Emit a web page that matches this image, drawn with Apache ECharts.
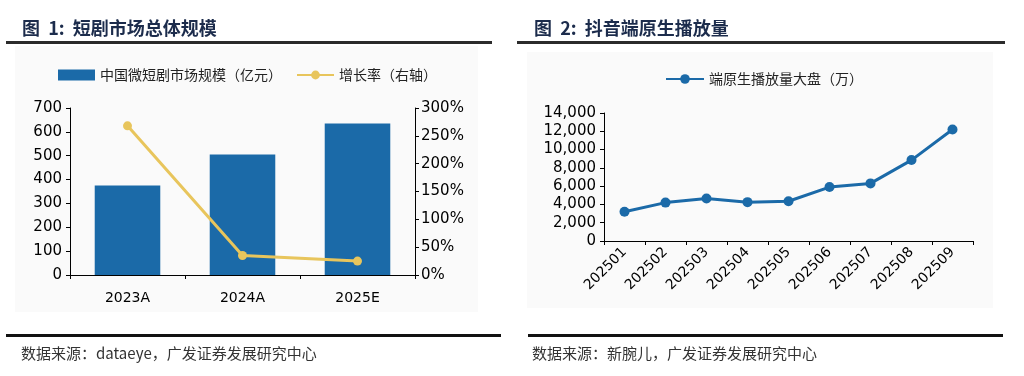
<!DOCTYPE html>
<html>
<head>
<meta charset="utf-8">
<script src="https://cdn.jsdelivr.net/npm/echarts@6/dist/echarts.min.js"></script>
<style>
  html, body { margin: 0; padding: 0; background: #fff; }
  #main { width: 1024px; height: 376px; }
</style>
</head>
<body>
<div id="main"></div>
<script>
// 图1 数据
var years = ['2023A', '2024A', '2025E'];
var marketSize = [375, 505, 635];
var growthRate = [268, 35, 25];
// 图2 数据
var months = ['202501', '202502', '202503', '202504', '202505', '202506', '202507', '202508', '202509'];
var playCount = [3200, 4200, 4650, 4250, 4350, 5900, 6300, 8850, 12200];

var BLUE = '#1b6aa8';
var GOLD = '#e8c55c';
var NAVY = '#1c2c4c';
var CJK = '"Noto Sans CJK SC", sans-serif';
var NUM = '"DejaVu Sans", Arial, sans-serif';

var axisLine = { show: true, lineStyle: { color: '#000', width: 1 } };
var axisTick = { show: true, length: 4, lineStyle: { color: '#000' } };

var myChart = echarts.init(document.getElementById('main'), null, { renderer: 'canvas' });

var option = {
    backgroundColor: '#fff',
    animation: false,
    title: [
        { text: '图  1:  短剧市场总体规模', left: 17, top: 14,
          textStyle: { fontFamily: CJK, fontSize: 18, fontWeight: 'bold', color: NAVY } },
        { text: '图  2:  抖音端原生播放量', left: 529, top: 14,
          textStyle: { fontFamily: CJK, fontSize: 18, fontWeight: 'bold', color: NAVY } },
        { text: '数据来源：dataeye，广发证券发展研究中心', left: 16, top: 341,
          textStyle: { fontFamily: CJK, fontSize: 15, fontWeight: 'normal', color: '#333' } },
        { text: '数据来源：新腕儿，广发证券发展研究中心', left: 527, top: 341,
          textStyle: { fontFamily: CJK, fontSize: 15, fontWeight: 'normal', color: '#333' } }
    ],
    graphic: [
        { type: 'rect', z: -10, shape: { x: 15, y: 46, width: 463, height: 266 }, style: { fill: '#fafafa' } },
        { type: 'rect', z: -10, shape: { x: 527, y: 52, width: 466, height: 256 }, style: { fill: '#fafafa' } },
        { type: 'rect', shape: { x: 6, y: 41, width: 486, height: 3 }, style: { fill: '#2b2b2b' } },
        { type: 'rect', shape: { x: 517, y: 41, width: 488, height: 3 }, style: { fill: '#2b2b2b' } },
        { type: 'rect', shape: { x: 6, y: 334, width: 495, height: 3 }, style: { fill: '#111' } },
        { type: 'rect', shape: { x: 528, y: 334, width: 475, height: 3 }, style: { fill: '#111' } }
    ],
    legend: [
        { left: 53, top: 63, itemWidth: 37, itemHeight: 11, itemGap: 14,
          textStyle: { fontFamily: CJK, fontSize: 14, color: '#222' },
          data: [
              { name: '中国微短剧市场规模（亿元）', icon: 'rect' },
              { name: '增长率（右轴）' }
          ] },
        { left: 660, top: 67, itemWidth: 38, itemHeight: 12,
          textStyle: { fontFamily: CJK, fontSize: 14, color: '#222' },
          data: [{ name: '端原生播放量大盘（万）' }] }
    ],
    grid: [
        { left: 70, right: 1024 - 415, top: 108, height: 167 },
        { left: 604, right: 1024 - 973, top: 113, height: 128 }
    ],
    xAxis: [
        { type: 'category', gridIndex: 0, data: years,
          axisLine: axisLine, axisTick: Object.assign({ alignWithLabel: false }, axisTick),
          axisLabel: { fontFamily: NUM, fontSize: 14, color: '#000', margin: 16 } },
        { type: 'category', gridIndex: 1, data: months,
          axisLine: axisLine, axisTick: axisTick,
          axisLabel: { fontFamily: NUM, fontSize: 14, color: '#000', rotate: 45, margin: 9, interval: 0 } }
    ],
    yAxis: [
        { type: 'value', gridIndex: 0, min: 0, max: 700, interval: 100,
          axisLine: axisLine, axisTick: axisTick, splitLine: { show: false },
          axisLabel: { fontFamily: NUM, fontSize: 15, color: '#000', margin: 8 } },
        { type: 'value', gridIndex: 0, position: 'right', min: 0, max: 300, interval: 50,
          axisLine: axisLine, axisTick: axisTick, splitLine: { show: false },
          axisLabel: { fontFamily: NUM, fontSize: 15, color: '#000', margin: 6, formatter: '{value}%' } },
        { type: 'value', gridIndex: 1, min: 0, max: 14000, interval: 2000,
          axisLine: axisLine, axisTick: axisTick, splitLine: { show: false },
          axisLabel: { fontFamily: NUM, fontSize: 15, color: '#000', margin: 8,
              formatter: function (v) { return v.toLocaleString('en-US'); } } }
    ],
    series: [
        { name: '中国微短剧市场规模（亿元）', type: 'bar', xAxisIndex: 0, yAxisIndex: 0,
          data: marketSize, barWidth: '57%', itemStyle: { color: BLUE } },
        { name: '增长率（右轴）', type: 'line', xAxisIndex: 0, yAxisIndex: 1,
          data: growthRate, symbol: 'circle', symbolSize: 9,
          lineStyle: { color: GOLD, width: 3 }, itemStyle: { color: GOLD } },
        { name: '端原生播放量大盘（万）', type: 'line', xAxisIndex: 1, yAxisIndex: 2,
          data: playCount, symbol: 'circle', symbolSize: 10,
          lineStyle: { color: BLUE, width: 3 }, itemStyle: { color: BLUE } }
    ]
};

myChart.setOption(option);
</script>
</body>
</html>
